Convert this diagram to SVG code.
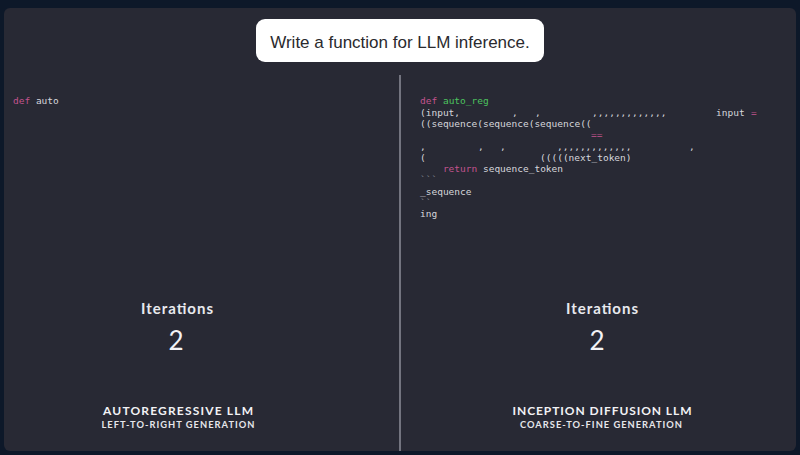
<svg xmlns="http://www.w3.org/2000/svg" width="800" height="455" viewBox="0 0 800 455">
<style>
.code{font-family:"DejaVu Sans Mono",monospace;font-size:9.5px;fill:#d6d7dc;white-space:pre}
.kw{fill:#c2538e}
.fn{fill:#4cc35f}
.dim{fill:#8a8c96}
.iter{font-family:Lato,"Noto Sans",sans-serif;font-weight:bold;font-size:15px;fill:#e8e9ee;text-anchor:middle}
.num{font-family:Lato,"Noto Sans",sans-serif;font-size:26px;fill:#f2f2f5;text-anchor:middle}
.h1{font-family:Lato,"Noto Sans",sans-serif;font-weight:bold;font-size:12px;fill:#f2f2f5;text-anchor:middle}
.h2{font-family:Lato,"Noto Sans",sans-serif;font-weight:bold;font-size:9.3px;fill:#e6e6ea;text-anchor:middle}
</style>
<rect x="0" y="0" width="800" height="455" fill="#0d1829"/>
<rect x="4" y="8" width="792" height="443" rx="6" fill="#282934"/>
<g id="connectors">
<line x1="400" y1="75" x2="400" y2="451" stroke="#8c8e98" stroke-width="1.5"/>
</g>
<g id="prompt">
<rect x="256" y="19" width="288" height="43" rx="9" fill="#ffffff"/>
<text x="400" y="48" font-family="Liberation Sans, Arial, sans-serif" font-size="17" fill="#2a2a2e" text-anchor="middle">Write a function for LLM inference.</text>
</g>
<g id="left-code">
<text class="code" x="13" y="104"><tspan class="kw">def</tspan> auto</text>
</g>
<g id="right-code">
<text class="code" x="420" y="104"><tspan class="kw">def</tspan> <tspan class="fn">auto_reg</tspan></text>
<text class="code" y="116"><tspan x="420">(input,</tspan><tspan x="512">,</tspan><tspan x="535">,</tspan><tspan x="592">,,,,,,,,,,,,,</tspan><tspan x="716">input</tspan><tspan x="751" class="kw">=</tspan></text>
<text class="code" x="420" y="127">((sequence(sequence(sequence((</text>
<text class="code kw" x="591" y="138">==</text>
<text class="code" y="150"><tspan x="420">,</tspan><tspan x="478">,</tspan><tspan x="500">,</tspan><tspan x="557">,,,,,,,,,,,,,</tspan><tspan x="689">,</tspan></text>
<text class="code" y="161"><tspan x="420">(</tspan><tspan x="540">(((((next_token)</tspan></text>
<text class="code" x="420" y="172">    <tspan class="kw">return</tspan> sequence_token</text>
<text class="code dim" x="420" y="183">```</text>
<text class="code" x="420" y="195">_sequence</text>
<text class="code dim" x="420" y="206">``</text>
<text class="code" x="420" y="217">ing</text>
</g>
<g id="left-label">
<text class="iter" x="177" y="314" textLength="72">Iterations</text>
<text class="num" x="176" y="350">2</text>
<text class="h1" x="178" y="415" textLength="150">AUTOREGRESSIVE LLM</text>
<text class="h2" x="178" y="428" textLength="153">LEFT-TO-RIGHT GENERATION</text>
</g>
<g id="right-label">
<text class="iter" x="602" y="314" textLength="72">Iterations</text>
<text class="num" x="597" y="350">2</text>
<text class="h1" x="602" y="415" textLength="179">INCEPTION DIFFUSION LLM</text>
<text class="h2" x="601" y="428" textLength="162">COARSE-TO-FINE GENERATION</text>
</g>
</svg>
